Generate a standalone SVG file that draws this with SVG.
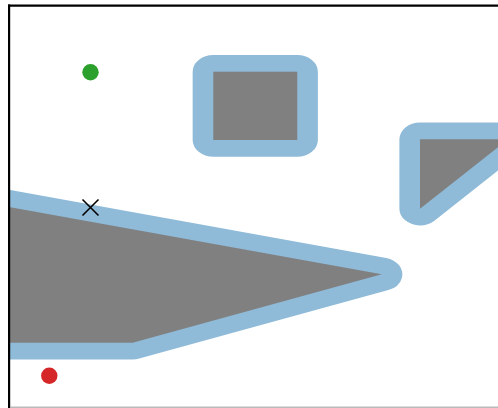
<svg xmlns="http://www.w3.org/2000/svg" width="498" height="408" viewBox="0 0 498 408">
  <style>
    .buf { fill: #8FBBD9; stroke: #8FBBD9; stroke-width: 33.4; stroke-linejoin: round; }
    .obs { fill: #808080; stroke: none; }
    .spine { stroke: #000; stroke-width: 2.2; fill: none; }
  </style>
  <defs>
    <clipPath id="ax">
      <rect x="9" y="5" width="489" height="402"/>
    </clipPath>
  </defs>
  <rect x="0" y="0" width="498" height="408" fill="#fff"/>
  <g clip-path="url(#ax)">
    <g id="obstacle-rect" transform="scale(1.235 1)">
      <rect class="buf" x="172.7" y="71.7" width="68" height="68.3"/>
      <rect class="obs" x="172.7" y="71.7" width="68" height="68.3"/>
    </g>
    <g id="obstacle-triangle" transform="scale(1.235 1)">
      <polygon class="buf" points="340.1,139.3 411.3,139.3 340.1,208.7"/>
      <polygon class="obs" points="340.1,139.3 411.3,139.3 340.1,208.7"/>
    </g>
    <g id="obstacle-wedge" transform="scale(1.235 1)">
      <polygon class="buf" points="-16.2,201.7 309.1,274.3 107.4,342.7 -16.2,342.7"/>
      <polygon class="obs" points="-16.2,201.7 309.1,274.3 107.4,342.7 -16.2,342.7"/>
    </g>
    <g id="start">
      <circle cx="90.5" cy="72.2" r="8.2" fill="#2ca02c"/>
    </g>
    <g id="goal">
      <circle cx="49.3" cy="375.7" r="8.2" fill="#d62728"/>
    </g>
    <g id="waypoint">
      <path d="M82.5,199.5 L98.5,215.5 M98.5,199.5 L82.5,215.5" stroke="#000" stroke-width="1.6" fill="none"/>
    </g>
  </g>
  <g id="axes">
    <line class="spine" x1="8" y1="5.6" x2="498" y2="5.6"/>
    <line class="spine" x1="9.1" y1="4.5" x2="9.1" y2="408"/>
    <rect x="10" y="406.6" width="488" height="1.2" fill="#aaa"/>
  </g>
</svg>
